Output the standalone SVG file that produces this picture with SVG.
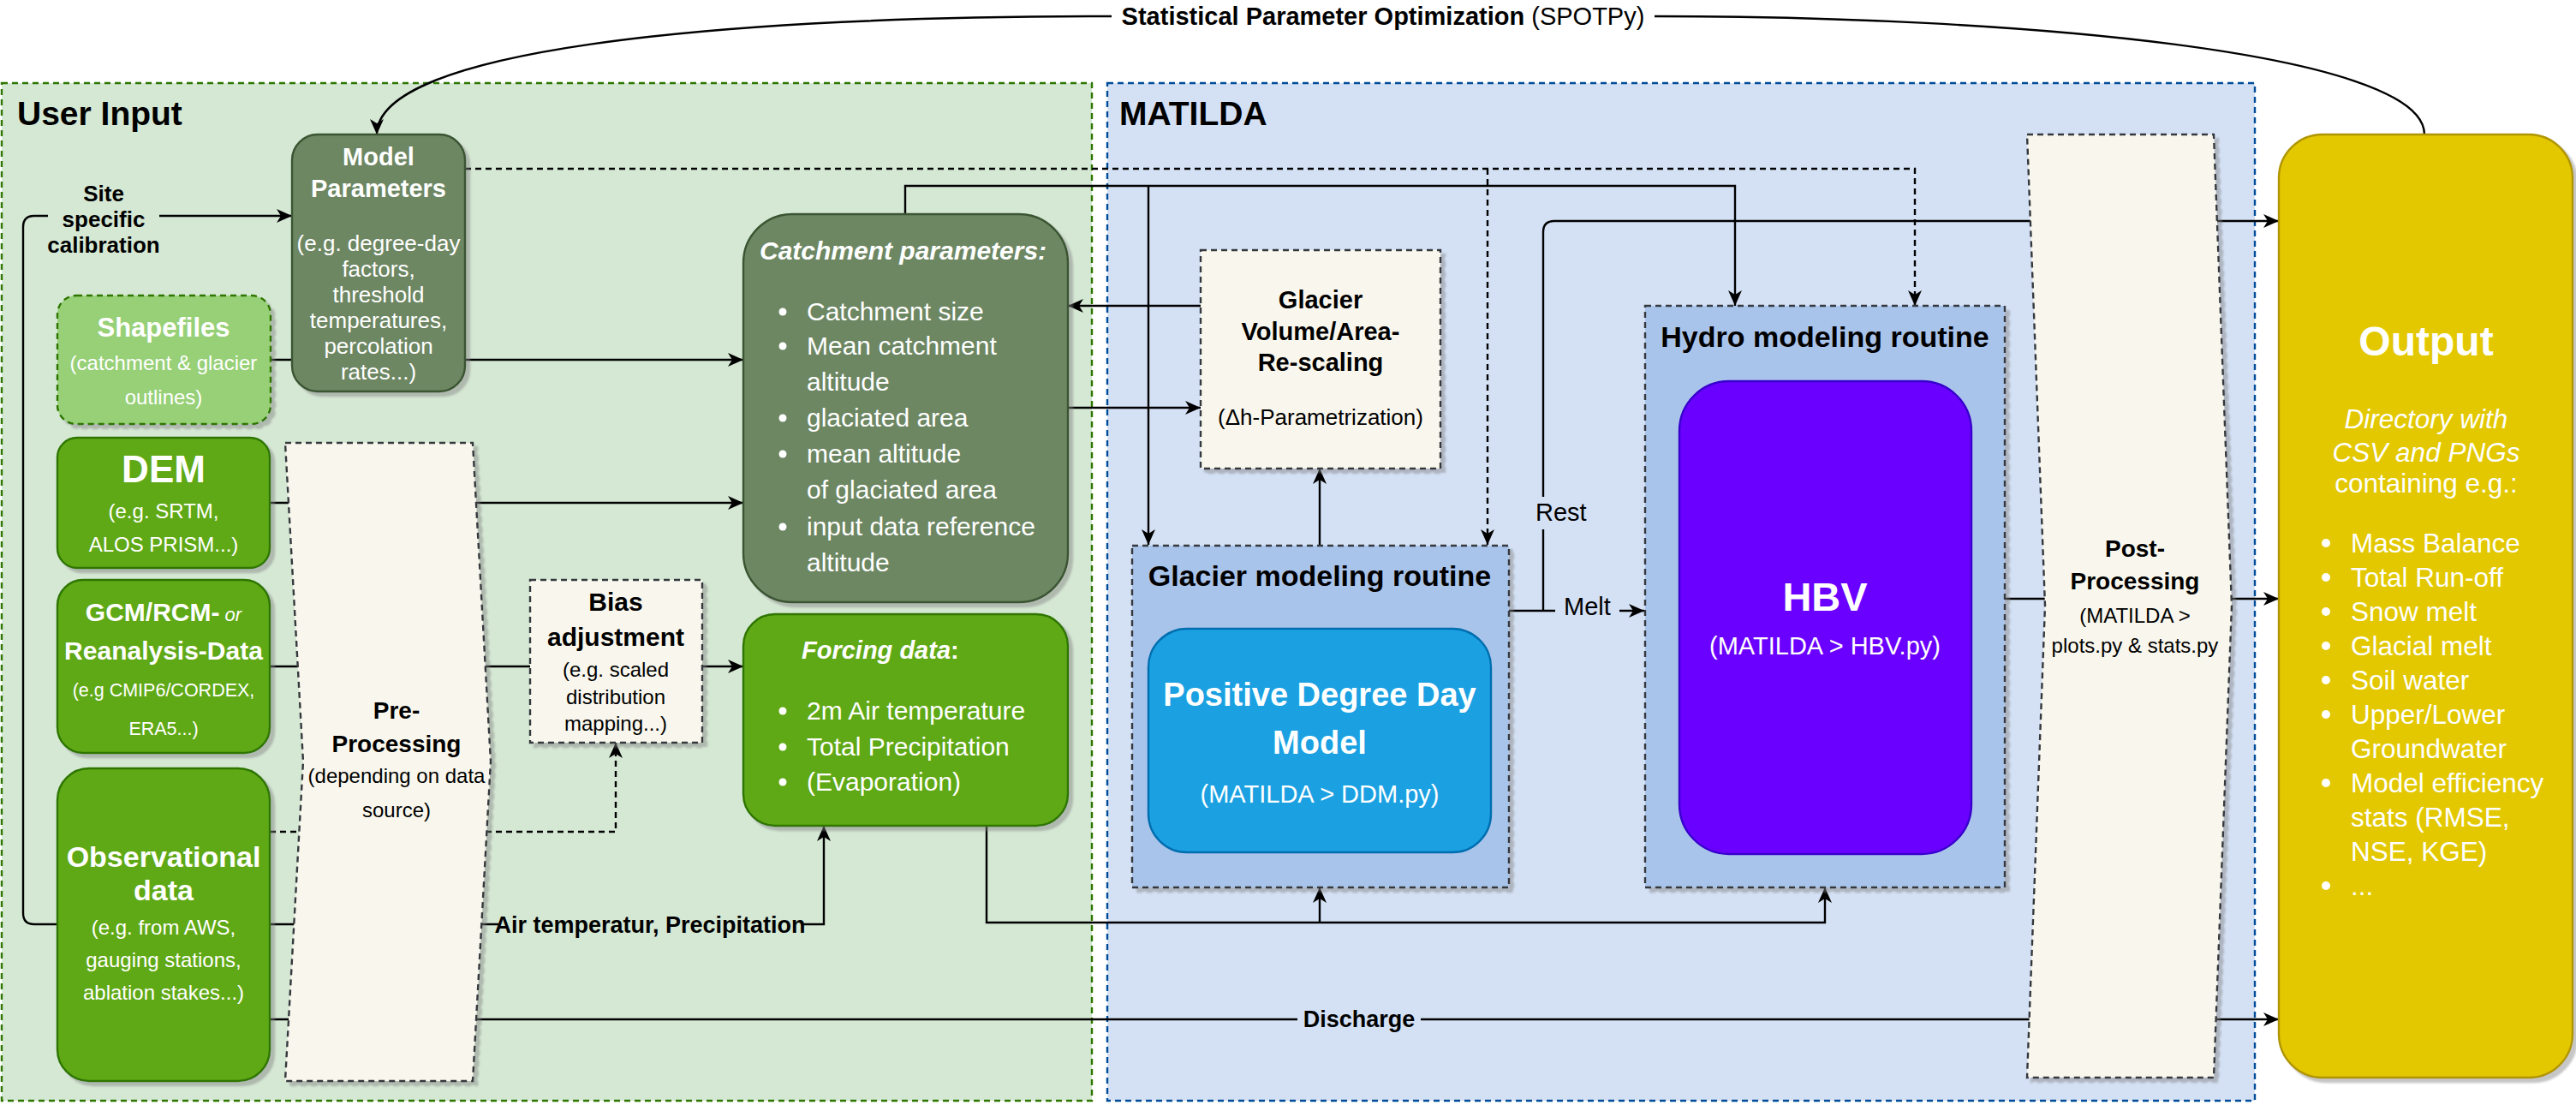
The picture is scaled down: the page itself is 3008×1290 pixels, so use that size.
<svg xmlns="http://www.w3.org/2000/svg" width="3008" height="1290" viewBox="0 0 3008 1290">
<style>
text{font-family:"Liberation Sans",Arial,sans-serif;}
.w{fill:#fff}
.k{fill:#000}
.b{font-weight:bold}
.i{font-style:italic}
.c{text-anchor:middle}
.ln{fill:none;stroke:#000;stroke-width:2.4}
.dl{fill:none;stroke:#000;stroke-width:2.4;stroke-dasharray:7 5}
.sh{filter:url(#shadow)}
</style>
<defs>
<marker id="arr" markerUnits="userSpaceOnUse" markerWidth="20" markerHeight="16" refX="18" refY="8" orient="auto">
<path d="M0,0 L18,8 L0,16 L5,8 Z" fill="#000"/>
</marker>
<filter id="shadow" x="-10%" y="-10%" width="130%" height="130%">
<feDropShadow dx="5" dy="5" stdDeviation="1" flood-color="#808080" flood-opacity="0.45"/>
</filter>
</defs>
<rect width="3008" height="1290" fill="#fff"/>

<g id="user-input">
<rect x="2" y="97" width="1273" height="1188" fill="#d5e8d4" stroke="#2d7600" stroke-width="2.4" stroke-dasharray="7 5"/>
<text x="20" y="146" font-size="39" class="b k">User Input</text>
</g>
<g id="matilda">
<rect x="1293" y="97" width="1340" height="1188" fill="#d4e1f5" stroke="#004c99" stroke-width="2.4" stroke-dasharray="7 5"/>
<text x="1307" y="146" font-size="39" class="b k">MATILDA</text>
</g>

<g id="connectors">
<path class="ln" d="M67,1079 H40 Q27,1079 27,1066 V265 Q27,252 40,252 H56 M186,252 H341" marker-end="url(#arr)"/>
<path class="ln" d="M316,420 H868" marker-end="url(#arr)"/>
<path class="ln" d="M315,587 H868" marker-end="url(#arr)"/>
<path class="ln" d="M315,778 H619"/>
<path class="ln" d="M820,778 H868" marker-end="url(#arr)"/>
<path class="dl" d="M315,971 H719 V867" marker-end="url(#arr)"/>
<path class="ln" d="M315,1079 H582 M936,1079 H962 V964" marker-end="url(#arr)"/>
<path class="ln" d="M315,1190 H1515 M1659,1190 H2661" marker-end="url(#arr)"/>
<path class="dl" d="M543,197 H2236 V357" marker-end="url(#arr)"/>
<path class="dl" d="M1737,197 V636" marker-end="url(#arr)"/>
<path class="ln" d="M1057,250 V217 H2026 V357" stroke-width="3.2" marker-end="url(#arr)"/>
<path class="ln" d="M1341,217 V636" marker-end="url(#arr)"/>
<path class="ln" d="M1402,357 H1247" marker-end="url(#arr)"/>
<path class="ln" d="M1247,476 H1402" marker-end="url(#arr)"/>
<path class="ln" d="M1541,637 V547" marker-end="url(#arr)"/>
<path class="ln" d="M1152,964 V1077 H2131 V1036" marker-end="url(#arr)"/>
<path class="ln" d="M1541,1077 V1036" marker-end="url(#arr)"/>
<path class="ln" d="M1762,713 H1816 M1891,713 H1920" marker-end="url(#arr)"/>
<path class="ln" d="M1802,713 V618 M1802,580 V271 Q1802,258 1815,258 H2661" marker-end="url(#arr)"/>
<path class="ln" d="M2341,699 H2661" marker-end="url(#arr)"/>
<path class="ln" d="M2831,157 C2831,60 2350,19 1932,19 M1298,19 C820,19 440,60 440,157" marker-end="url(#arr)"/>
<text x="1615" y="29" font-size="29" class="c k"><tspan class="b">Statistical Parameter Optimization</tspan> (SPOTPy)</text>
<text x="121" y="235" font-size="26" class="c b k">Site</text>
<text x="121" y="265" font-size="26" class="c b k">specific</text>
<text x="121" y="295" font-size="26" class="c b k">calibration</text>
<text x="759" y="1089" font-size="27" class="c b k">Air temperatur, Precipitation</text>
<text x="1587" y="1199" font-size="27" class="c b k">Discharge</text>
<text x="1793" y="608" font-size="29" class="k">Rest</text>
<text x="1826" y="718" font-size="29" class="k">Melt</text>
</g>

<g id="model-parameters">
<rect class="sh" x="341" y="157" width="202" height="300" rx="30" fill="#6d8764" stroke="#3a5431" stroke-width="2.4"/>
<text x="442" y="193" font-size="29" class="c b w">Model</text>
<text x="442" y="230" font-size="29" class="c b w">Parameters</text>
<text x="442" y="293" font-size="26" class="c w">(e.g. degree-day</text>
<text x="442" y="323" font-size="26" class="c w">factors,</text>
<text x="442" y="353" font-size="26" class="c w">threshold</text>
<text x="442" y="383" font-size="26" class="c w">temperatures,</text>
<text x="442" y="413" font-size="26" class="c w">percolation</text>
<text x="442" y="443" font-size="26" class="c w">rates...)</text>
</g>

<g id="shapefiles">
<rect class="sh" x="67" y="345" width="249" height="150" rx="22" fill="#97d077" stroke="#2d7600" stroke-width="2.4" stroke-dasharray="7 5"/>
<text x="191" y="393" font-size="31" class="c b w">Shapefiles</text>
<text x="191" y="432" font-size="24" class="c w">(catchment &amp; glacier</text>
<text x="191" y="472" font-size="24" class="c w">outlines)</text>
</g>

<g id="dem">
<rect class="sh" x="67" y="511" width="248" height="152" rx="23" fill="#60a917" stroke="#2d7600" stroke-width="2.4"/>
<text x="191" y="563" font-size="44" class="c b w">DEM</text>
<text x="191" y="605" font-size="24" class="c w">(e.g. SRTM,</text>
<text x="191" y="644" font-size="24" class="c w">ALOS PRISM...)</text>
</g>

<g id="gcm">
<rect class="sh" x="67" y="677" width="248" height="202" rx="30" fill="#60a917" stroke="#2d7600" stroke-width="2.4"/>
<text x="191" y="725" font-size="30" class="c w"><tspan class="b">GCM/RCM-</tspan><tspan class="i" font-size="22"> or</tspan></text>
<text x="191" y="770" font-size="30" class="c b w">Reanalysis-Data</text>
<text x="191" y="813" font-size="21.5" class="c w">(e.g CMIP6/CORDEX,</text>
<text x="191" y="858" font-size="21.5" class="c w">ERA5...)</text>
</g>

<g id="observational">
<rect class="sh" x="67" y="897" width="248" height="365" rx="37" fill="#60a917" stroke="#2d7600" stroke-width="2.4"/>
<text x="191" y="1012" font-size="34" class="c b w">Observational</text>
<text x="191" y="1051" font-size="34" class="c b w">data</text>
<text x="191" y="1091" font-size="24" class="c w">(e.g. from AWS,</text>
<text x="191" y="1129" font-size="24" class="c w">gauging stations,</text>
<text x="191" y="1167" font-size="24" class="c w">ablation stakes...)</text>
</g>

<g id="pre-processing">
<path class="sh" d="M333,517 H552 L573,889 L552,1262 H333 L354,889 Z" fill="#f9f7ed" stroke="#36393d" stroke-width="2.4" stroke-dasharray="7 5"/>
<text x="463" y="839" font-size="28" class="c b k">Pre-</text>
<text x="463" y="878" font-size="28" class="c b k">Processing</text>
<text x="463" y="914" font-size="24" class="c k">(depending on data</text>
<text x="463" y="954" font-size="24" class="c k">source)</text>
</g>

<g id="bias-adjustment">
<rect class="sh" x="619" y="677" width="201" height="190" fill="#f9f7ed" stroke="#36393d" stroke-width="2.4" stroke-dasharray="7 5"/>
<text x="719" y="713" font-size="30" class="c b k">Bias</text>
<text x="719" y="754" font-size="30" class="c b k">adjustment</text>
<text x="719" y="790" font-size="24" class="c k">(e.g. scaled</text>
<text x="719" y="822" font-size="24" class="c k">distribution</text>
<text x="719" y="853" font-size="24" class="c k">mapping...)</text>
</g>

<g id="catchment-parameters">
<rect class="sh" x="868" y="250" width="379" height="453" rx="57" fill="#6d8764" stroke="#3a5431" stroke-width="2.4"/>
<text x="887" y="303" font-size="30" class="b i w">Catchment parameters:</text>
<g class="w">
<circle cx="914" cy="364" r="4.5"/><circle cx="914" cy="404" r="4.5"/><circle cx="914" cy="488" r="4.5"/><circle cx="914" cy="530" r="4.5"/><circle cx="914" cy="615" r="4.5"/>
</g>
<text x="942" y="374" font-size="30" class="w">Catchment size</text>
<text x="942" y="414" font-size="30" class="w">Mean catchment</text>
<text x="942" y="456" font-size="30" class="w">altitude</text>
<text x="942" y="498" font-size="30" class="w">glaciated area</text>
<text x="942" y="540" font-size="30" class="w">mean altitude</text>
<text x="942" y="582" font-size="30" class="w">of glaciated area</text>
<text x="942" y="625" font-size="30" class="w">input data reference</text>
<text x="942" y="667" font-size="30" class="w">altitude</text>
</g>

<g id="forcing-data">
<rect class="sh" x="868" y="717" width="379" height="247" rx="37" fill="#60a917" stroke="#2d7600" stroke-width="2.4"/>
<text x="936" y="769" font-size="29" class="b w"><tspan class="i">Forcing data</tspan>:</text>
<g class="w"><circle cx="914" cy="830" r="4.5"/><circle cx="914" cy="872" r="4.5"/><circle cx="914" cy="913" r="4.5"/></g>
<text x="942" y="840" font-size="30" class="w">2m Air temperature</text>
<text x="942" y="882" font-size="30" class="w">Total Precipitation</text>
<text x="942" y="923" font-size="30" class="w">(Evaporation)</text>
</g>

<g id="glacier-rescaling">
<rect class="sh" x="1402" y="292" width="280" height="255" fill="#f9f7ed" stroke="#36393d" stroke-width="2.4" stroke-dasharray="7 5"/>
<text x="1542" y="360" font-size="29" class="c b k">Glacier</text>
<text x="1542" y="397" font-size="29" class="c b k">Volume/Area-</text>
<text x="1542" y="433" font-size="29" class="c b k">Re-scaling</text>
<text x="1542" y="496" font-size="26" class="c k">(Δh-Parametrization)</text>
</g>

<g id="glacier-routine">
<rect class="sh" x="1322" y="637" width="440" height="399" fill="#a9c4eb" stroke="#36393d" stroke-width="2.4" stroke-dasharray="7 5"/>
<text x="1541" y="684" font-size="34" class="c b k">Glacier modeling routine</text>
</g>

<g id="pdd-model">
<rect x="1341" y="734" width="400" height="261" rx="45" fill="#1ba1e2" stroke="#006eaf" stroke-width="2.4"/>
<text x="1541" y="824" font-size="38" class="c b w">Positive Degree Day</text>
<text x="1541" y="880" font-size="38" class="c b w">Model</text>
<text x="1541" y="937" font-size="29" class="c w">(MATILDA &gt; DDM.py)</text>
</g>

<g id="hydro-routine">
<rect class="sh" x="1921" y="357" width="420" height="679" fill="#a9c4eb" stroke="#36393d" stroke-width="2.4" stroke-dasharray="7 5"/>
<text x="2131" y="405" font-size="34" class="c b k">Hydro modeling routine</text>
</g>

<g id="hbv">
<rect x="1961" y="445" width="341" height="552" rx="58" fill="#6a00ff" stroke="#3700cc" stroke-width="2.4"/>
<text x="2131" y="713" font-size="47" class="c b w">HBV</text>
<text x="2131" y="764" font-size="29" class="c w">(MATILDA &gt; HBV.py)</text>
</g>

<g id="post-processing">
<path class="sh" d="M2367,157 H2585 L2606,707 L2585,1258 H2367 L2388,707 Z" fill="#f9f7ed" stroke="#36393d" stroke-width="2.4" stroke-dasharray="7 5"/>
<text x="2493" y="650" font-size="28" class="c b k">Post-</text>
<text x="2493" y="688" font-size="28" class="c b k">Processing</text>
<text x="2493" y="727" font-size="24" class="c k">(MATILDA &gt;</text>
<text x="2493" y="762" font-size="24" class="c k">plots.py &amp; stats.py</text>
</g>

<g id="output">
<rect class="sh" x="2661" y="157" width="343" height="1101" rx="51" fill="#e3c800" stroke="#b09500" stroke-width="2.4"/>
<text x="2833" y="415" font-size="48" class="c b w">Output</text>
<text x="2833" y="500" font-size="31.5" class="c i w">Directory with</text>
<text x="2833" y="539" font-size="31.5" class="c i w">CSV and PNGs</text>
<text x="2833" y="575" font-size="31.5" class="c w">containing e.g.:</text>
<g class="w">
<circle cx="2716" cy="634" r="5"/><circle cx="2716" cy="674" r="5"/><circle cx="2716" cy="714" r="5"/><circle cx="2716" cy="754" r="5"/><circle cx="2716" cy="794" r="5"/><circle cx="2716" cy="834" r="5"/><circle cx="2716" cy="914" r="5"/><circle cx="2716" cy="1034" r="5"/>
</g>
<text x="2745" y="645" font-size="31.5" class="w">Mass Balance</text>
<text x="2745" y="685" font-size="31.5" class="w">Total Run-off</text>
<text x="2745" y="725" font-size="31.5" class="w">Snow melt</text>
<text x="2745" y="765" font-size="31.5" class="w">Glacial melt</text>
<text x="2745" y="805" font-size="31.5" class="w">Soil water</text>
<text x="2745" y="845" font-size="31.5" class="w">Upper/Lower</text>
<text x="2745" y="885" font-size="31.5" class="w">Groundwater</text>
<text x="2745" y="925" font-size="31.5" class="w">Model efficiency</text>
<text x="2745" y="965" font-size="31.5" class="w">stats (RMSE,</text>
<text x="2745" y="1005" font-size="31.5" class="w">NSE, KGE)</text>
<text x="2745" y="1045" font-size="31.5" class="w">...</text>
</g>
</svg>
